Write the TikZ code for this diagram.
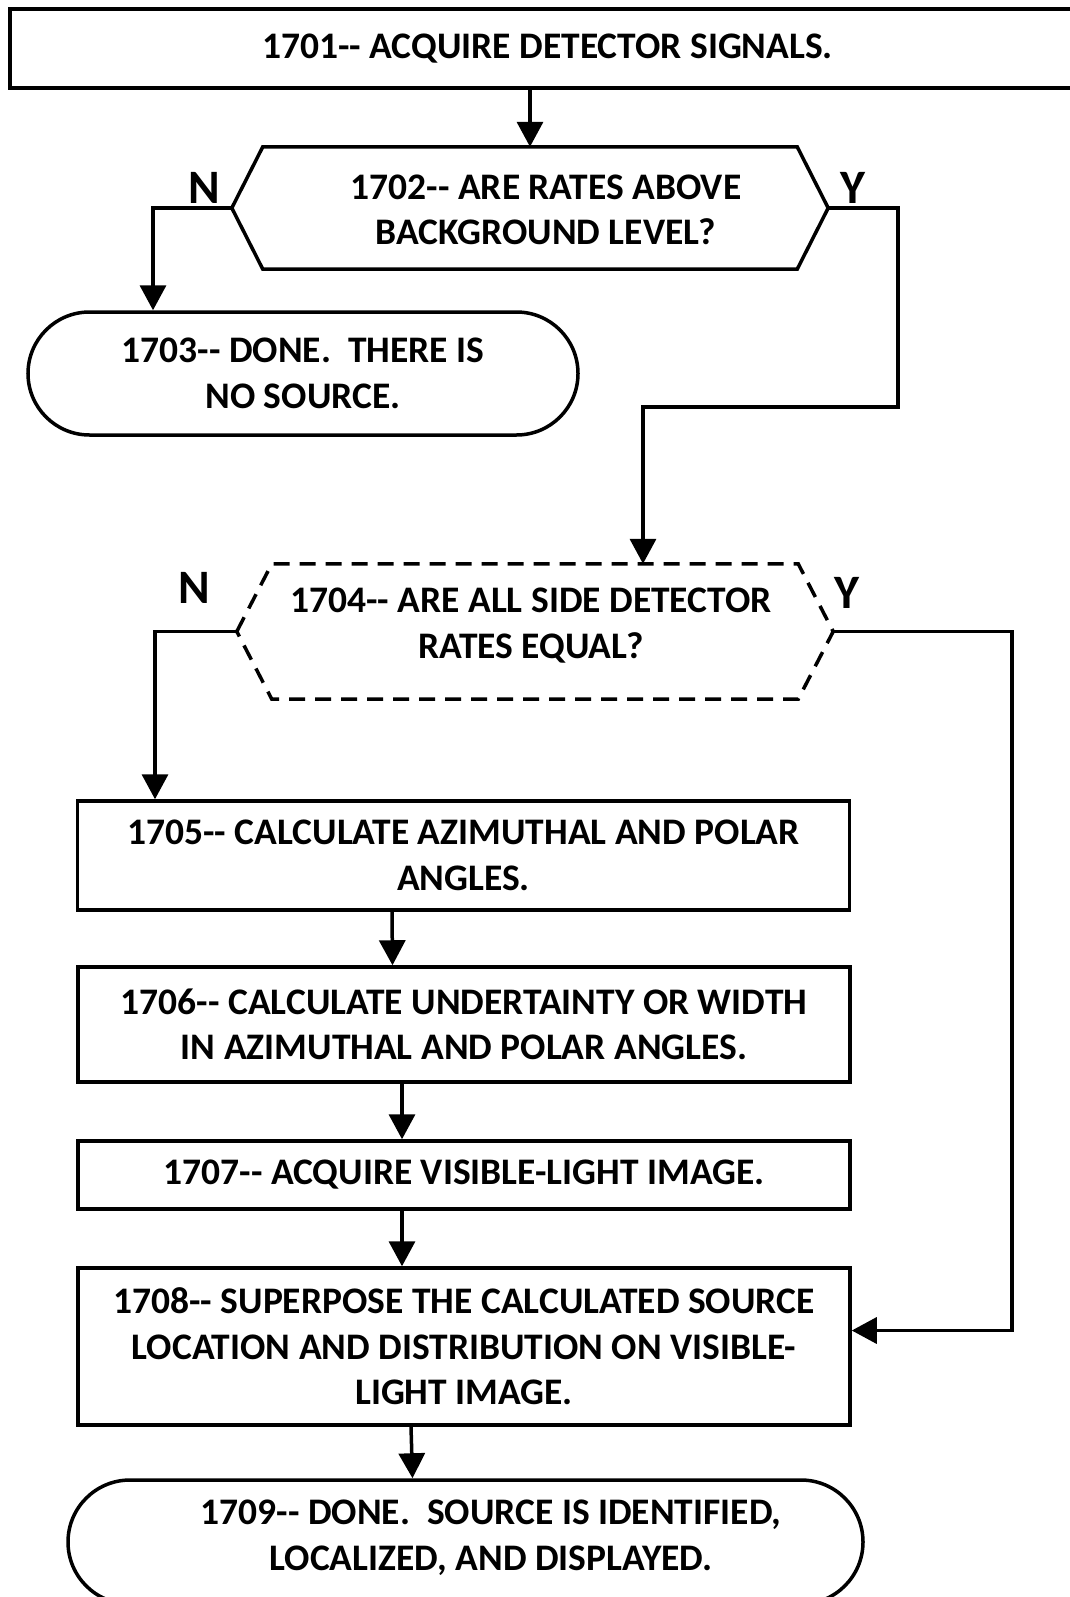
\documentclass[tikz,border=0pt]{standalone}
\usepackage{fontspec}
\setmainfont{Carlito}[Ligatures=TeXOff]
\usetikzlibrary{arrows.meta,shapes.misc}

\begin{document}
\begin{tikzpicture}[x=1pt, y=-1pt,
  every node/.style={font=\bfseries\fontsize{37.5}{45.5}\selectfont, align=center, inner sep=0pt},
  branchlabel/.style={font=\bfseries\fontsize{48}{50}\selectfont},
  flowline/.style={line width=3.5pt},
  flowarrow/.style={flowline, -{Triangle[length=25pt,width=26pt]}},
  stepbox/.style={draw, flowline, minimum width=772pt},
  endbox/.style={draw, flowline, rounded rectangle},
  hexbox/.style={minimum width=596pt}]
\useasboundingbox (0,0) rectangle (1070,1597);
\fill[white] (0,0) rectangle (1070,1597);
\clip (0,0) rectangle (1070,1597);

% steps and decisions
\node[stepbox, minimum width=1075pt, minimum height=79pt, line width=4pt] (s1) at (547.5,48.5) {1701-- ACQUIRE DETECTOR SIGNALS.};
\node[hexbox, minimum height=122pt] (q1) at (530,208) {};
\draw[flowline] (q1.west) -- ([xshift=31pt]q1.north west) -- ([xshift=-31pt]q1.north east) -- (q1.east) -- ([xshift=-31pt]q1.south east) -- ([xshift=31pt]q1.south west) -- cycle;
\node (q1t) at (546,210) {1702-- ARE RATES ABOVE\\BACKGROUND LEVEL?};
\node[endbox, minimum width=550pt, minimum height=123pt] (t1) at (303,373.5) {1703-- DONE.\ \ THERE IS\\NO SOURCE.};
\node[hexbox, minimum height=135pt] (q2) at (535,631.5) {};
\draw[flowline, dash pattern=on 16pt off 10pt] (q2.west) -- ([xshift=35pt]q2.north west) -- ([xshift=-35pt]q2.north east) -- (q2.east) -- ([xshift=-35pt]q2.south east) -- ([xshift=35pt]q2.south west) -- cycle;
\node (q2t) at (531,625.5) {1704-- ARE ALL SIDE DETECTOR\\RATES EQUAL?};
\node[stepbox, minimum height=109pt] (s2) at (463.5,855.5) {1705-- CALCULATE AZIMUTHAL AND POLAR\\ANGLES.};
\node[stepbox, minimum height=115pt] (s3) at (464,1024.5) {1706-- CALCULATE UNDERTAINTY OR WIDTH\\IN AZIMUTHAL AND POLAR ANGLES.};
\node[stepbox, minimum height=68pt] (s4) at (464,1175) {1707-- ACQUIRE VISIBLE-LIGHT IMAGE.};
\node[stepbox, minimum height=157pt] (s5) at (464,1346.5) {1708-- SUPERPOSE THE CALCULATED SOURCE\\LOCATION AND DISTRIBUTION ON VISIBLE-\\LIGHT IMAGE.};
\node[endbox, minimum width=795pt, minimum height=124pt] (t2) at (465.5,1542) {};
\node (t2t) at (491,1537.5) {1709-- DONE.\ \ SOURCE IS IDENTIFIED,\\LOCALIZED, AND DISPLAYED.};

% branch labels
\node[branchlabel] (n1) at (204,188) {N};
\node[branchlabel] (y1) at (853,188) {Y};
\node[branchlabel] (n2) at (194,588) {N};
\node[branchlabel] (y2) at (847,593) {Y};

% connectors
\coordinate (yb1) at (898,407);
\draw[flowarrow] (s1.south -| q1.north) -- (q1.north);
\draw[flowarrow] (q1.west) -| ([xshift=-150pt]t1.north);
\draw[flowarrow] (q1.east) -| (yb1) -| ([xshift=108pt]q2.north);
\draw[flowarrow] (q2.west) -| ([xshift=-308.5pt]s2.north);
\draw[flowarrow] (q2.east) -| ([xshift=160pt,yshift=16pt]s5.east) -- ([yshift=16pt]s5.east);
\draw[flowarrow] ([xshift=-71.5pt]s2.south) -- ([xshift=-71.5pt]s3.north);
\draw[flowarrow] ([xshift=-62pt]s3.south) -- ([xshift=-62pt]s4.north);
\draw[flowarrow] ([xshift=-62pt]s4.south) -- ([xshift=-62pt]s5.north);
\draw[flowarrow] ([xshift=-53pt]s5.south) -- ([xshift=-53pt]t2.north);
\end{tikzpicture}
\end{document}
